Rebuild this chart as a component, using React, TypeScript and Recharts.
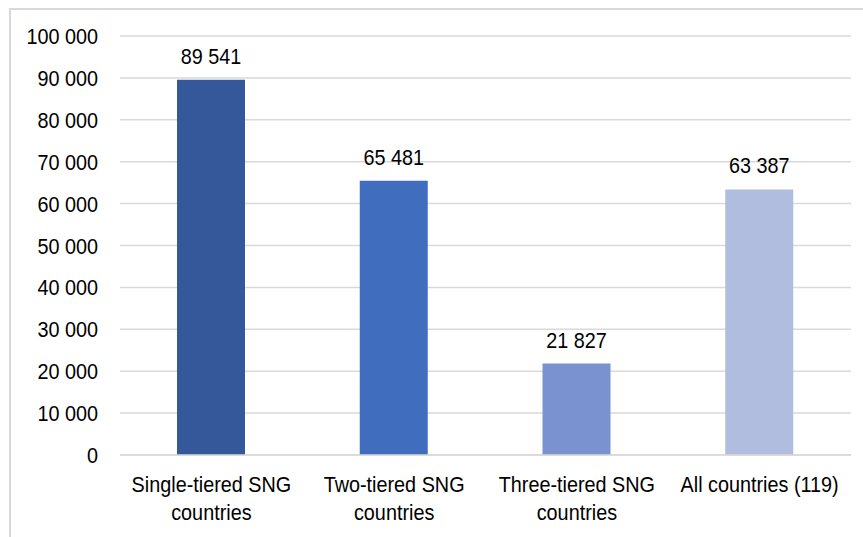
import React from "react";
import { BarChart, Bar, XAxis, YAxis, CartesianGrid, Cell, LabelList } from "recharts";

const categories = [
  "Single-tiered SNG countries",
  "Two-tiered SNG countries",
  "Three-tiered SNG countries",
  "All countries (119)",
];
const categoryLines = [
  ["Single-tiered SNG", "countries"],
  ["Two-tiered SNG", "countries"],
  ["Three-tiered SNG", "countries"],
  ["All countries (119)"],
];
const values = [89541, 65481, 21827, 63387];
const barColors = ["#34589A", "#416DBF", "#7A92D0", "#B1BDDE"];
const yTicks = [0, 10000, 20000, 30000, 40000, 50000, 60000, 70000, 80000, 90000, 100000];

const data = categories.map((c, i) => ({ name: c, value: values[i], idx: i }));

const fmt = (v: number) => String(v).replace(/\B(?=(\d{3})+(?!\d))/g, " ");
const FONT = "'Liberation Sans', Arial, sans-serif";
const FS = 22.5;
const SX = 0.88;

const NarrowText = ({ x, y, anchor, children }: any) => (
  <g transform={`translate(${x},${y}) scale(${SX},1)`}>
    <text x={0} y={0} textAnchor={anchor} fill="#000" fontSize={FS} fontFamily={FONT}>
      {children}
    </text>
  </g>
);

const XTick = (props: any) => {
  const { x, y, payload } = props;
  const idx = categories.indexOf(payload.value);
  const lines = categoryLines[idx] || [payload.value];
  return (
    <g>
      {lines.map((l, i) => (
        <NarrowText key={i} x={x} y={y + 37 + i * 28} anchor="middle">
          {l}
        </NarrowText>
      ))}
    </g>
  );
};

const YTick = (props: any) => {
  const { x, y, payload } = props;
  return (
    <NarrowText x={x} y={y + 8} anchor="end">
      {fmt(payload.value)}
    </NarrowText>
  );
};

const BarLabel = (props: any) => {
  const { x, y, width, value } = props;
  return (
    <NarrowText x={Number(x) + Number(width) / 2} y={Number(y) - 16} anchor="middle">
      {fmt(Number(value))}
    </NarrowText>
  );
};

export default function App() {
  return (
    <div style={{ position: "fixed", left: 0, top: 0, width: 863, height: 537, overflow: "hidden", background: "#fff" }}>
      <div
        style={{
          position: "absolute",
          left: 9,
          top: 8,
          width: 900,
          height: 600,
          border: "2px solid #d9d9d9",
          boxSizing: "border-box",
        }}
      />
      <div style={{ position: "absolute", left: 0, top: 0 }}>
        <BarChart
          width={863}
          height={537}
          data={data}
          margin={{ top: 36, right: 12, bottom: 52, left: 0 }}
          barSize={68}
        >
          <CartesianGrid vertical={false} stroke="#d9d9d9" strokeWidth={1.5} />
          <XAxis
            dataKey="name"
            tick={<XTick />}
            tickLine={false}
            axisLine={{ stroke: "#d9d9d9", strokeWidth: 1.5 }}
            tickSize={0}
            tickMargin={0}
            interval={0}
            height={30}
          />
          <YAxis
            width={120}
            domain={[0, 100000]}
            ticks={yTicks}
            axisLine={false}
            tickLine={false}
            tickSize={0}
            tickMargin={22}
            tick={<YTick />}
            interval={0}
          />
          <Bar dataKey="value" isAnimationActive={false}>
            {data.map((d, i) => (
              <Cell key={i} fill={barColors[i]} />
            ))}
            <LabelList dataKey="value" content={<BarLabel />} />
          </Bar>
        </BarChart>
      </div>
    </div>
  );
}
